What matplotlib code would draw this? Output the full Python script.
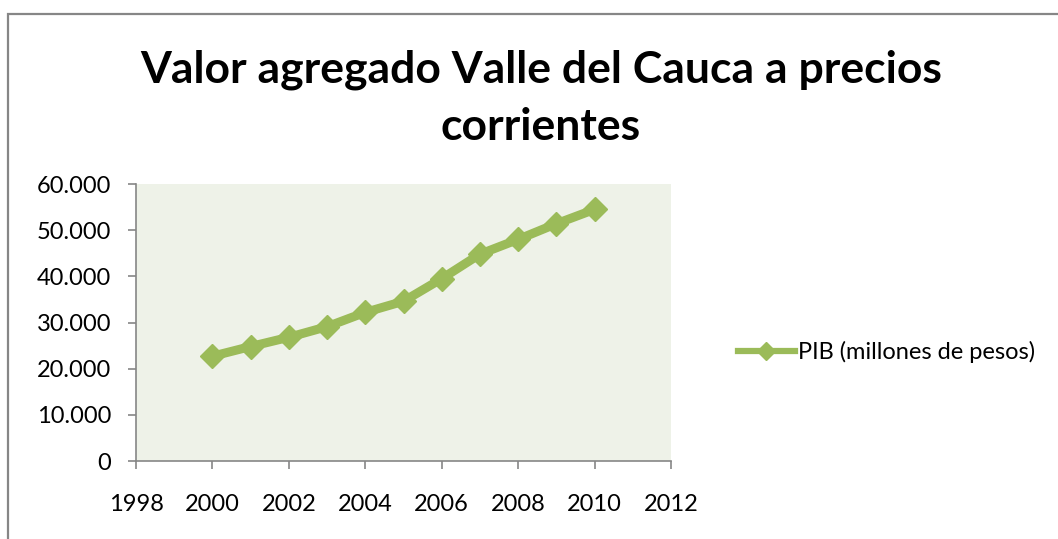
import matplotlib
matplotlib.use("Agg")
import matplotlib.pyplot as plt
from matplotlib.patches import Rectangle

years = [2000, 2001, 2002, 2003, 2004, 2005, 2006, 2007, 2008, 2009, 2010]
pib = [22700, 24800, 26800, 29100, 32200, 34600, 39500, 44800, 48000, 51400, 54500]
series_label = "PIB (millones de pesos)"
title = "Valor agregado Valle del Cauca a precios\ncorrientes"
x_ticks = [1998, 2000, 2002, 2004, 2006, 2008, 2010, 2012]
y_ticks = [0, 10000, 20000, 30000, 40000, 50000, 60000]
y_tick_labels = ["0", "10.000", "20.000", "30.000", "40.000", "50.000", "60.000"]

plt.rcParams['font.family'] = ['Lato', 'DejaVu Sans']

W, H = 1058, 539
fig = plt.figure(figsize=(W / 100, H / 100), dpi=100)
fig.patch.set_facecolor("white")

# outer chart frame (extends past right/bottom edges)
fig.add_artist(Rectangle((8 / W, -0.1), 1.2, 1 - 14 / H + 0.1, transform=fig.transFigure,
                         fill=False, edgecolor="#868686", linewidth=1.6))

left, right, top, bottom = 136 / W, 671 / W, 184 / H, 461 / H
ax = fig.add_axes([left, 1 - bottom, right - left, bottom - top])
ax.set_facecolor("#EEF2E8")

green = "#9BBB59"
ax.plot(years, pib, color=green, linewidth=6.5, marker="D", markersize=12,
        markeredgecolor=green, markerfacecolor=green, label=series_label,
        solid_joinstyle="round", clip_on=False)

ax.set_xlim(1998, 2012)
ax.set_ylim(0, 60000)
ax.set_xticks(x_ticks)
ax.set_xticklabels([str(t) for t in x_ticks])
ax.set_yticks(y_ticks)
ax.set_yticklabels(y_tick_labels)

for s in ["top", "right"]:
    ax.spines[s].set_visible(False)
for s in ["left", "bottom"]:
    ax.spines[s].set_color("#868686")
    ax.spines[s].set_linewidth(1.2)

ax.tick_params(axis="both", colors="#868686", labelcolor="black", labelsize=17,
               length=6, width=1.2, direction="out")
ax.tick_params(axis="x", pad=18)
ax.tick_params(axis="y", pad=12)

fig.text(541 / W, 1 - 98 / H, title, ha="center", va="center", fontsize=32,
         fontweight="bold", linespacing=1.5)

leg = fig.legend(loc="center left", bbox_to_anchor=(738 / W, 1 - 352 / H), frameon=False,
                 fontsize=17, handlelength=2.4, handletextpad=0.15, borderaxespad=0, borderpad=0)
for h in leg.legend_handles:
    h.set_markersize(9)
    h.set_linewidth(4.5)

fig.savefig("out.png", dpi=100)
